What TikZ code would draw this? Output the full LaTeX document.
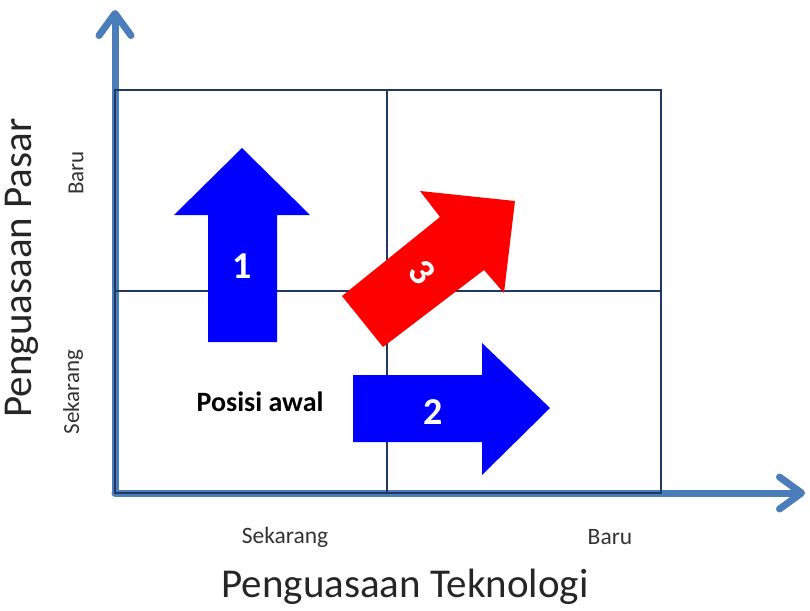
\documentclass[tikz,border=0pt]{standalone}
\usepackage{fontspec}
\setmainfont{Carlito}
\usetikzlibrary{arrows.meta}
\definecolor{axisblue}{RGB}{74,126,187}
\definecolor{gridnavy}{RGB}{31,56,100}
\begin{document}
\begin{tikzpicture}[x=1pt, y=-1pt,
                    axis/.style={draw=axisblue, line width=7pt, line cap=round,
                                 -{Straight Barb[length=22pt, width=32pt, round]}},
                    grid line/.style={draw=gridnavy, line width=1.8pt},
                    big arrow/.style={fill=#1, draw=none},
                    num label/.style={text=white, font=\fontsize{38}{40}\selectfont\bfseries},
                    axis title/.style={font=\fontsize{41}{43}\selectfont, text=black!85},
                    tick label/.style={font=\fontsize{23.5}{25}\selectfont, text=black!80},
                    side label/.style={font=\fontsize{23}{25}\selectfont, text=black!80, rotate=90}]
  \useasboundingbox (0,0) rectangle (810,610);

  % axes
  \coordinate (origin) at (115,493);
  \coordinate (ytip) at (115,10);
  \coordinate (xtip) at (805,493);
  \draw[axis] (origin) -- (ytip);
  \draw[axis] (origin) -- (xtip);

  % 2x2 matrix
  \draw[grid line] (115,90) rectangle (661,493);
  \draw[grid line] (387,90) -- (387,493);
  \draw[grid line] (115,291) -- (661,291);

  % strategy arrows
  \fill[big arrow=blue] (208,342) -- (208,215) -- (174,215) -- (242,148)
    -- (310,215) -- (277,215) -- (277,342) -- cycle;
  \fill[big arrow=blue] (353,375) -- (482,375) -- (482,343) -- (550,408)
    -- (482,475) -- (482,442) -- (353,442) -- cycle;
  \fill[big arrow=red] (342,296) -- (440,217) -- (420,191) -- (515,201)
    -- (504,293) -- (484,270) -- (383,347) -- cycle;

  \node[num label] (one) at (242,266) {1};
  \node[num label] (two) at (433,412) {2};
  \node[num label, rotate=-51] (three) at (422,272) {3};

  \node[font=\fontsize{28}{30}\selectfont\bfseries] (start) at (260,402) {Posisi awal};

  % labels
  \node[tick label] (xnow) at (285,537) {Sekarang};
  \node[tick label] (xnew) at (610,537) {Baru};
  \node[side label] (ynow) at (73,392) {Sekarang};
  \node[side label] (ynew) at (76,173) {Baru};
  \node[axis title] (xtitle) at (405,587) {Penguasaan Teknologi};
  \node[axis title, rotate=90] (ytitle) at (22,268) {Penguasaan Pasar};
\end{tikzpicture}
\end{document}
